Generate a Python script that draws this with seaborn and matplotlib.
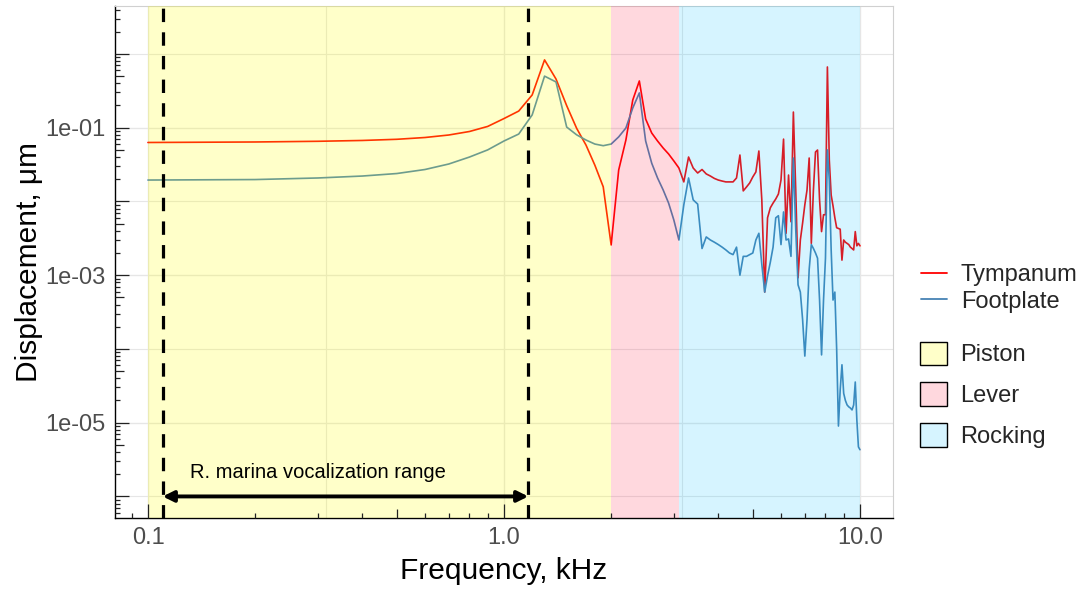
import numpy as np
import pandas as pd
import matplotlib
matplotlib.use("Agg")
import matplotlib.pyplot as plt
import seaborn as sns
from matplotlib.patches import Patch
from matplotlib.lines import Line2D
from matplotlib.ticker import FixedLocator, FixedFormatter, NullFormatter

# ---------------- data ----------------
freq_khz = [0.1, 0.2, 0.3, 0.4, 0.5, 0.6, 0.7, 0.8, 0.9, 1.0,
            1.1, 1.2, 1.3, 1.4, 1.5, 1.6, 1.7, 1.8, 1.9, 2.0,
            2.1, 2.2, 2.3, 2.4, 2.5, 2.6, 2.7, 2.8, 2.9, 3.0,
            3.1, 3.2, 3.3, 3.4, 3.5, 3.6, 3.7, 3.8, 3.9, 4.0,
            4.1, 4.2, 4.3, 4.4, 4.5, 4.6, 4.7, 4.8, 4.9, 5.0,
            5.1, 5.2, 5.3, 5.4, 5.5, 5.6, 5.7, 5.8, 5.9, 6.0,
            6.1, 6.2, 6.3, 6.4, 6.5, 6.6, 6.7, 6.8, 6.9, 7.0,
            7.1, 7.2, 7.3, 7.4, 7.5, 7.6, 7.7, 7.8, 7.9, 8.0,
            8.1, 8.2, 8.3, 8.4, 8.5, 8.6, 8.7, 8.8, 8.9, 9.0,
            9.1, 9.2, 9.3, 9.4, 9.5, 9.6, 9.7, 9.8, 9.9, 10.0]

tympanum = [0.063, 0.064, 0.0654, 0.0671, 0.0696, 0.0736, 0.0796, 0.0888, 0.104, 0.133,
            0.168, 0.278, 0.83, 0.457, 0.199, 0.098, 0.058, 0.031, 0.0158, 0.00257,
            0.0267, 0.068, 0.237, 0.43, 0.131, 0.0847, 0.066, 0.053, 0.044, 0.0354,
            0.0284, 0.0184, 0.040, 0.0284, 0.0243, 0.0271, 0.0236, 0.0221, 0.0205, 0.0195,
            0.0189, 0.0184, 0.0184, 0.0184, 0.0208, 0.0426, 0.0139, 0.0157, 0.0178, 0.0215,
            0.0251, 0.0483, 0.0105, 0.00059, 0.006, 0.0082, 0.0095, 0.0108, 0.0126, 0.0195,
            0.070, 0.0037, 0.0228, 0.0053, 0.163, 0.0143, 0.00092, 0.0030, 0.0051, 0.0090,
            0.0143, 0.0388, 0.0027, 0.0143, 0.0468, 0.0498, 0.0105, 0.0039, 0.0066, 0.0066,
            0.665, 0.0365, 0.0122, 0.0087, 0.006, 0.0044, 0.0043, 0.0042, 0.0016, 0.0030,
            0.0028, 0.0027, 0.0026, 0.0024, 0.0023, 0.0022, 0.0039, 0.0025, 0.0027, 0.0025]

footplate = [0.0195, 0.0198, 0.0208, 0.0221, 0.0239, 0.0271, 0.0322, 0.040, 0.050, 0.066,
             0.082, 0.149, 0.50, 0.417, 0.102, 0.080, 0.068, 0.060, 0.057, 0.060,
             0.075, 0.099, 0.185, 0.296, 0.066, 0.033, 0.0208, 0.0143, 0.0095, 0.0056,
             0.0030, 0.0090, 0.0208, 0.0105, 0.0092, 0.0023, 0.0033, 0.0030, 0.0028, 0.0026,
             0.0024, 0.0022, 0.0020, 0.0019, 0.0024, 0.0010, 0.0018, 0.0018, 0.0019, 0.0020,
             0.0030, 0.0037, 0.0014, 0.00059, 0.00098, 0.0015, 0.0024, 0.0060, 0.0064, 0.0026,
             0.0072, 0.0030, 0.0031, 0.0018, 0.0388, 0.0042, 0.00074, 0.00059, 0.00025, 0.00008,
             0.00025, 0.0012, 0.0026, 0.0023, 0.0020, 0.0017, 0.00046, 0.000083, 0.00046, 0.0017,
             0.050, 0.0195, 0.0022, 0.00046, 0.00059, 0.0001, 0.000009, 0.000028, 0.000061, 0.000025,
             0.00002, 0.0000174, 0.0000164, 0.0000158, 0.0000149, 0.0000174, 0.0000356, 0.0000109, 0.0000047, 0.0000043]

series_names = ["Tympanum", "Footplate"]
series_colors = ["#FF0000", "#4682B4"]

region_names = ["Piston", "Lever", "Rocking"]
region_start = [0.1, 2.0, 3.1]
region_end = [2.0, 3.1, 10.0]
region_colors = ["#FFFF00", "#FF1A40", "#00BFFF"]
region_alpha = [0.21, 0.17, 0.16]

voc_range = [0.11, 1.17]
voc_label = "R. marina vocalization range"
voc_arrow_y = 1.0e-6
voc_text_pos = (0.30, 2.1e-6)

x_ticks = [0.1, 1.0, 10.0]
x_ticklabels = ["0.1", "1.0", "10.0"]
y_ticks = [1e-1, 1e-3, 1e-5]
y_ticklabels = ["1e-01", "1e-03", "1e-05"]

# ---------------- figure ----------------
sns.set_theme(style="white")
plt.rcParams["font.family"] = ["Liberation Sans", "DejaVu Sans"]

fig = plt.figure(figsize=(10.87, 5.94), dpi=100)
ax = fig.add_axes([0.1058, 0.128, 0.7157, 0.8619])

df = pd.DataFrame({
    "Frequency": freq_khz * 2,
    "Displacement": tympanum + footplate,
    "Series": [series_names[0]] * len(freq_khz) + [series_names[1]] * len(freq_khz),
})
sns.lineplot(data=df, x="Frequency", y="Displacement", hue="Series",
             hue_order=series_names, palette=series_colors, linewidth=1.2,
             legend=False, ax=ax, zorder=2)

ax.set_xscale("log")
ax.set_yscale("log")
ax.set_xlim(10 ** -1.0927, 10 ** 1.0927)
ax.set_ylim(10 ** -6.292, 10 ** 0.650)

# shaded regions (drawn above the lines, translucent)
for s, e, c, a in zip(region_start, region_end, region_colors, region_alpha):
    ax.axvspan(s, e, facecolor=c, alpha=a, edgecolor="none", zorder=3)

# vocalization range
for v in voc_range:
    ax.axvline(v, color="black", lw=2.3, linestyle=(0, (4.2, 3.2)), zorder=5)
ax.annotate("", xy=(voc_range[0], voc_arrow_y), xytext=(voc_range[1], voc_arrow_y),
            arrowprops=dict(arrowstyle="<|-|>", color="black", lw=2.8,
                            mutation_scale=16, shrinkA=0, shrinkB=0), zorder=6)
ax.text(voc_text_pos[0], voc_text_pos[1], voc_label, ha="center", va="center",
        fontsize=14.5, color="black", zorder=6)

# ticks, grid
ax.xaxis.set_major_locator(FixedLocator(x_ticks))
ax.xaxis.set_major_formatter(FixedFormatter(x_ticklabels))
ax.xaxis.set_minor_locator(FixedLocator([10 ** -0.5, 10 ** 0.5]))
ax.xaxis.set_minor_formatter(NullFormatter())
ax.yaxis.set_major_locator(FixedLocator(y_ticks))
ax.yaxis.set_major_formatter(FixedFormatter(y_ticklabels))
ax.yaxis.set_minor_locator(FixedLocator([1e0, 1e-2, 1e-4, 1e-6]))
ax.yaxis.set_minor_formatter(NullFormatter())

ax.tick_params(which="major", direction="out", length=3.5, width=0.9, color="#333333",
               labelsize=17, labelcolor="#4D4D4D", pad=3)
ax.tick_params(which="minor", length=0)
ax.grid(True, which="major", color="#E6E6E6", lw=1.0)
ax.grid(True, which="minor", color="#E6E6E6", lw=0.8)
ax.set_axisbelow(True)

# log ticks inside the panel
for n in range(-2, 2):
    for k in range(1, 10):
        v = k * 10.0 ** n
        if ax.get_xlim()[0] <= v <= ax.get_xlim()[1]:
            L = 0.0264 if k == 1 else (0.0176 if k == 5 else 0.0088)
            ax.vlines(v, 0, L, transform=ax.get_xaxis_transform(), color="#222222",
                      lw=0.9, zorder=7, clip_on=False)
for n in range(-7, 1):
    for k in range(1, 10):
        v = k * 10.0 ** n
        if ax.get_ylim()[0] <= v <= ax.get_ylim()[1]:
            L = 0.0174 if k == 1 else (0.0116 if k == 5 else 0.0058)
            ax.hlines(v, 0, L, transform=ax.get_yaxis_transform(), color="#222222",
                      lw=0.9, zorder=7, clip_on=False)

for side in ["left", "bottom"]:
    ax.spines[side].set_color("black")
    ax.spines[side].set_linewidth(1.0)
for side in ["top", "right"]:
    ax.spines[side].set_color("#D0D0D0")
    ax.spines[side].set_linewidth(0.8)

ax.set_xlabel("Frequency, kHz", fontsize=21.5, color="black", labelpad=6)
ax.set_ylabel("Displacement, μm", fontsize=21.5, color="black", labelpad=2)

# legends
line_handles = [Line2D([0], [0], color=c, lw=1.3) for c in series_colors]
leg1 = fig.legend(line_handles, series_names, loc="upper left",
                  bbox_to_anchor=(0.847, 0.555), frameon=False, fontsize=17,
                  handlelength=1.1, handletextpad=0.6, labelspacing=0.18,
                  borderpad=0, borderaxespad=0)
fill_handles = [Patch(facecolor=matplotlib.colors.to_rgba(c, a), edgecolor="black", lw=1.0)
                for c, a in zip(region_colors, region_alpha)]
leg2 = fig.legend(fill_handles, region_names, loc="upper left",
                  bbox_to_anchor=(0.8465, 0.425), frameon=False, fontsize=17,
                  handlelength=1.15, handleheight=1.15, handletextpad=0.55,
                  labelspacing=0.68, borderpad=0, borderaxespad=0)

fig.savefig("out.png", dpi=100)
